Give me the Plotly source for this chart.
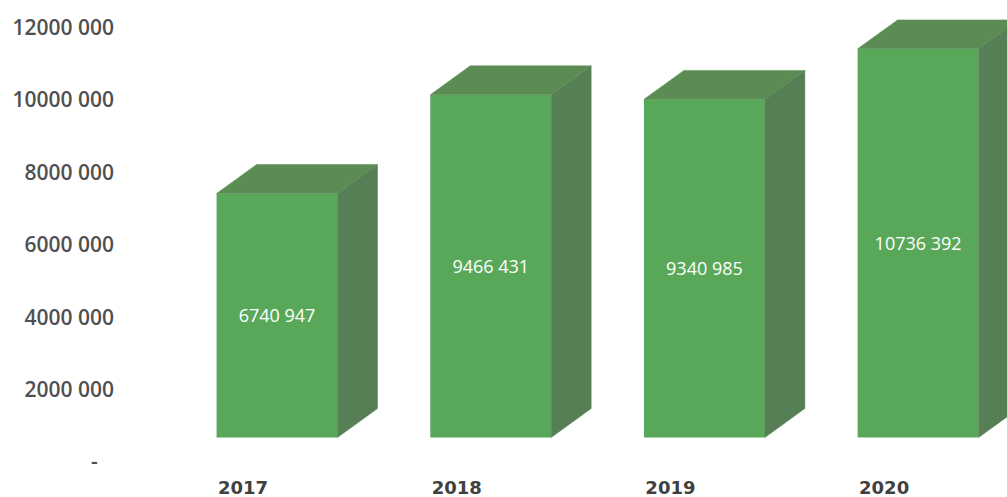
import plotly.graph_objects as go

# Annual totals
years = [2017, 2018, 2019, 2020]
values = [6740947, 9466431, 9340985, 10736392]

# Value-axis ticks (accounting-style dash for zero, padded like the number format)
tick_values = [0, 2000000, 4000000, 6000000, 8000000, 10000000, 12000000]
tick_labels = ["-\u00a0\u00a0\u00a0", "2000 000", "4000 000", "6000 000", "8000 000", "10000 000", "12000 000"]

FRONT = "#59a85a"
TOP = "#5b8c54"
SIDE = "#567f55"

BAR_W = 0.566          # bar width in category units
DEPTH_X = 0.187        # extrusion depth along x (category units)
DEPTH_Y = 800000       # extrusion depth along y (value units)


def fmt(v):
    return f"{v // 1000} {v % 1000:03d}"


# Top and side faces of each extruded bar, in data coordinates
top_x, top_y, side_x, side_y = [], [], [], []
for yr, v in zip(years, values):
    x0, x1 = yr - BAR_W / 2, yr + BAR_W / 2
    top_x += [x0, x1, x1 + DEPTH_X, x0 + DEPTH_X, x0, None]
    top_y += [v, v, v + DEPTH_Y, v + DEPTH_Y, v, None]
    side_x += [x1, x1, x1 + DEPTH_X, x1 + DEPTH_X, x1, None]
    side_y += [0, v, v + DEPTH_Y, DEPTH_Y, 0, None]

fig = go.Figure()

fig.add_trace(go.Bar(
    x=years, y=values, width=BAR_W,
    marker=dict(color=FRONT, line=dict(width=0)),
    text=[fmt(v) for v in values],
    textposition="inside", insidetextanchor="middle", textangle=0,
    textfont=dict(family="Open Sans", size=18, color="white"),
    hoverinfo="skip", showlegend=False,
))
fig.add_trace(go.Scatter(
    x=side_x, y=side_y, mode="lines", fill="toself", fillcolor=SIDE,
    line=dict(color=SIDE, width=0.5), hoverinfo="skip", showlegend=False,
))
fig.add_trace(go.Scatter(
    x=top_x, y=top_y, mode="lines", fill="toself", fillcolor=TOP,
    line=dict(color=TOP, width=0.5), hoverinfo="skip", showlegend=False,
))
# Invisible trace carrying the value-axis labels
fig.add_trace(go.Scatter(
    x=[years[0]], y=[0], yaxis="y2", mode="markers",
    marker=dict(opacity=0), hoverinfo="skip", showlegend=False,
))

PX_PER_UNIT = 36.2 / 1e6
PLOT_H = 467
BASE_PX = 437.5
ZERO_LABEL_PX = 462

fig.update_layout(
    width=1007, height=497,
    margin=dict(l=120, r=0, t=0, b=497 - PLOT_H),
    plot_bgcolor="white", paper_bgcolor="white",
    xaxis=dict(
        range=[2016.265, 2020.416],
        tickmode="array", tickvals=years, ticktext=[str(y) for y in years],
        showgrid=False, zeroline=False, showline=False, ticks="",
        ticklabelshift=-34, ticklabelstandoff=8,
        tickfont=dict(family="DejaVu Sans", size=18, color="#404040", weight="bold"),
    ),
    yaxis=dict(
        range=[-(PLOT_H - BASE_PX) / PX_PER_UNIT, BASE_PX / PX_PER_UNIT],
        showgrid=False, zeroline=False, showline=False, showticklabels=False, ticks="",
    ),
    yaxis2=dict(
        overlaying="y", side="left",
        range=[-(PLOT_H - ZERO_LABEL_PX) / PX_PER_UNIT, ZERO_LABEL_PX / PX_PER_UNIT],
        tickmode="array", tickvals=tick_values, ticktext=tick_labels,
        showgrid=False, zeroline=False, showline=False, ticks="",
        ticklabelstandoff=5,
        tickfont=dict(family="Open Sans", size=21, color="#505050", weight=600),
    ),
)

fig.write_html("out.html")
